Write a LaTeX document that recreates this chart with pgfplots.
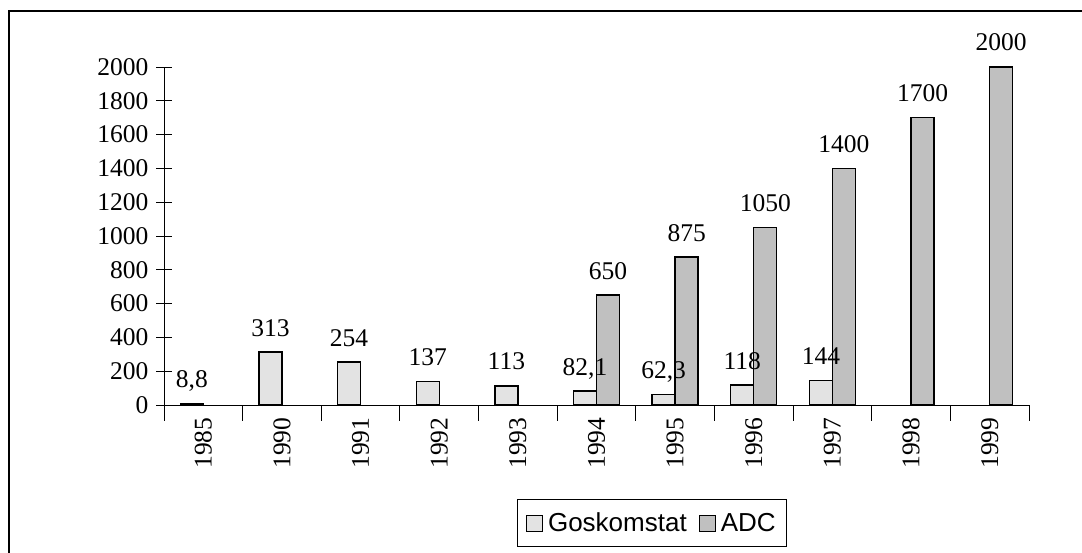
\documentclass[border=0pt]{standalone}
\usepackage{pgfplots}
\pgfplotsset{compat=1.18}
\usepackage{pgfplotstable}
\usepackage{fontspec}
\setmainfont{Liberation Serif}
\newfontfamily\arialf{Liberation Sans}
\definecolor{gosk}{HTML}{E3E3E3}
\definecolor{adcc}{HTML}{C0C0C0}

\pgfplotstableread{
x y lab
0 8.8 8,8
1 313 313
2 254 254
3 137 137
4 113 113
5 82.1 82,1
6 62.3 62,3
7 118 118
8 144 144
}\goskdata

\pgfplotstableread{
x y lab
5 650 650
6 875 875
7 1050 1050
8 1400 1400
9 1700 1700
10 2000 2000
}\adcdata

\begin{document}
\begin{tikzpicture}[x=1pt,y=1pt]
\useasboundingbox (0,0) rectangle (1082,553);
\begin{scope}
\clip (0,0) rectangle (1082,553);
\draw[line width=1.5pt] (9,-10) -- (9,542) -- (1100,542);
\end{scope}
\begin{axis}[
  at={(164pt,148pt)}, anchor=south west,
  scale only axis, width=865pt, height=338pt,
  xmin=-0.5, xmax=10.5, ymin=0, ymax=2000,
  enlargelimits=false,
  axis x line*=bottom, axis y line*=left,
  axis line style={-, line width=0.9pt},
  every tick/.style={black, line width=0.9pt},
  tick align=center, major tick length=16pt,
  ytick={0,200,...,2000},
  /pgf/number format/.cd, 1000 sep={}, assume math mode=true, /pgfplots/.cd,
  yticklabel style={font=\fontsize{25.5}{30}\selectfont, anchor=east, xshift=-4pt},
  xtick={-0.5,0.5,...,10.5}, xticklabels={},
  extra x ticks={0,1,...,10},
  extra x tick labels={1985,1990,1991,1992,1993,1994,1995,1996,1997,1998,1999},
  extra x tick style={major tick length=0pt,
     xticklabel style={font=\fontsize{25.5}{30}\selectfont, yshift=-9pt, rotate=90, anchor=east}},
  ybar=0pt, bar width=23pt,
  legend columns=2,
  legend style={at={(0.564,-0.278)}, anchor=north, draw=black, line width=0.9pt,
     font=\arialf\fontsize{26}{30}\selectfont,
     inner xsep=9pt, inner ysep=11.5pt,
     /tikz/every odd column/.append style={column sep=3pt},
     /tikz/every even column/.append style={column sep=10pt}},
]
\addplot[ybar, fill=gosk, draw=black, line width=1.3pt,
  nodes near coords, point meta=explicit symbolic,
  every node near coord/.append style={font=\fontsize{25.5}{30}\selectfont, anchor=base, yshift=16pt, inner sep=0pt},
  legend image code/.code={\draw[fill=gosk, draw=black, line width=1pt] (0pt,-8pt) rectangle (16pt,8pt);}]
  table[x=x, y=y, meta=lab]{\goskdata};
\addlegendentry{Goskomstat}
\addplot[ybar, fill=adcc, draw=black, line width=1.3pt,
  nodes near coords, point meta=explicit symbolic,
  every node near coord/.append style={font=\fontsize{25.5}{30}\selectfont, anchor=base, yshift=16pt, inner sep=0pt},
  legend image code/.code={\draw[fill=adcc, draw=black, line width=1pt] (0pt,-8pt) rectangle (16pt,8pt);}]
  table[x=x, y=y, meta=lab]{\adcdata};
\addlegendentry{ADC}
\end{axis}
\end{tikzpicture}
\end{document}
